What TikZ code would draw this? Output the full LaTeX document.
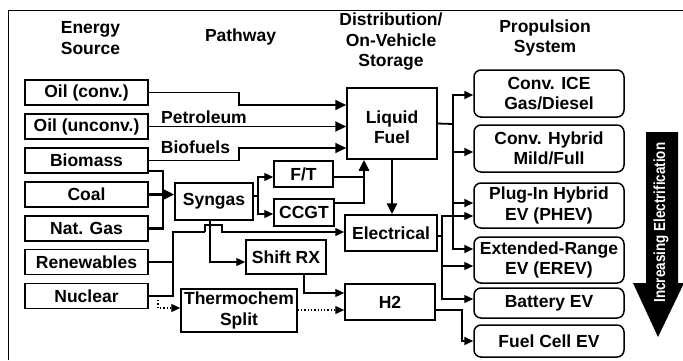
\documentclass[tikz,border=0pt]{standalone}
\usepackage{fontspec}
\usepackage{graphicx}
\setmainfont{Liberation Sans}
\usetikzlibrary{arrows.meta}

\tikzset{
  txt/.style={font=\bfseries\fontsize{17.5}{20.5}\selectfont, align=center, inner sep=0pt},
  box/.style={txt, draw, line width=1.5pt},
  src/.style={box, minimum width=123pt, minimum height=25pt},
  pbox/.style={box, rounded corners=7pt, minimum width=150pt},
  wire/.style={line width=1.8pt},
  thinwire/.style={line width=1.1pt},
  fatwire/.style={line width=2.8pt},
  dotwire/.style={line width=1.3pt, dotted},
  tip/.style={-{Triangle[length=11pt,width=10pt]}},
  smalltip/.style={-{Triangle[length=9pt,width=8pt]}}
}

\begin{document}
\begin{tikzpicture}[x=1pt,y=-1pt]
\useasboundingbox (0,0) rectangle (683,360);
\draw[line width=0.8pt] (8,360) -- (8,10) -- (683,10);

% naglowki
\node[txt] (hsrc) at (90.5,38) {Energy\\Source};
\node[txt] (hpath) at (240.5,37) {Pathway};
\node[txt] (hdist) at (391,42) {Distribution/\\On-Vehicle\\Storage};
\node[txt] (hprop) at (545,38) {Propulsion\\System};

% zrodla
\node[src] (oilc) at (86.5,92.5) {Oil (conv.)};
\node[src] (oilu) at (86.5,126.5) {Oil (unconv.)};
\node[src] (bio) at (86.5,160.5) {Biomass};
\node[src] (coal) at (86.5,194.5) {Coal};
\node[src] (gas) at (86.5,228.5) {Nat. Gas};
\node[src] (ren) at (86.5,262) {Renewables};
\node[src] (nuc) at (86.5,296) {Nuclear};

% posrednie
\node[box, minimum width=78pt, minimum height=37pt] (syn) at (214,201.5) {Syngas};
\node[box, minimum width=59pt, minimum height=26pt] (ft) at (303.5,174) {F/T};
\node[box, minimum width=60pt, minimum height=27pt] (cc) at (304,212.5) {CCGT};
\node[box, minimum width=80pt, minimum height=34pt] (shift) at (286,257) {Shift RX};
\node[box, minimum width=116pt, minimum height=43pt] (therm) at (239,310.5) {Thermochem\\Split};
\node[box, minimum width=90pt, minimum height=71pt] (liq) at (392,123.5) {\rule{0pt}{20pt}Liquid\\Fuel};
\node[box, minimum width=92pt, minimum height=36pt] (elec) at (391,233) {Electrical};
\node[box, minimum width=90pt, minimum height=36pt] (h2) at (390,302) {H2};

% naped
\node[pbox, minimum height=47pt] (ice) at (549,93.5) {Conv. ICE\\Gas/Diesel};
\node[pbox, minimum height=47pt] (hyb) at (549,148.5) {Conv. Hybrid\\Mild/Full};
\node[pbox, minimum height=45pt] (phev) at (549,205.5) {Plug-In Hybrid\\EV (PHEV)};
\node[pbox, minimum height=46pt] (erev) at (549,260) {Extended-Range\\EV (EREV)};
\node[pbox, minimum height=30pt] (bev) at (549,303) {Battery EV};
\node[pbox, minimum height=32pt] (fcev) at (549,341) {Fuel Cell EV};

% do paliwa
\coordinate (j1) at (239,105);
\coordinate (j2) at (239,148);
\draw[wire,tip] (oilc.east) -| (j1) -- (j1 -| liq.west);
\draw[wire,tip] (oilu.east) -- (oilu.east -| liq.west);
\draw[wire,tip] (bio.east) -| (j2) -- (j2 -| liq.west);
\node[txt] (petro) at (204,117) {Petroleum};
\node[txt] (biof) at (195.5,147.5) {Biofuels};

% syngas
\coordinate (b1) at (163,171);
\draw[fatwire] (b1 -| bio.east) -- (b1) |- (gas.east);
\draw[fatwire,tip] (coal.east) -- (coal.east -| syn.west);
\coordinate (s0) at (258,196);
\draw[thinwire] (s0 -| syn.east) -- (s0);
\draw[thinwire,smalltip] (s0) |- ([yshift=-3pt]ft.west);
\draw[thinwire,smalltip] (s0) |- ([yshift=-1.5pt]cc.west);
\coordinate (f1) at (364,203);
\draw[thinwire] ([yshift=-3pt]ft.east) -| (f1);
\draw[fatwire,tip] (f1 -| cc.east) -- (f1) -- (f1 |- liq.south);
\draw[fatwire,tip] (liq.south) -- (liq.south |- elec.north);

% prad
\coordinate (r1) at (173,232);
\coordinate (r2) at (205,232);
\draw[fatwire] (ren.east) -- (ren.east -| r1);
\draw[fatwire] (nuc.east) -| (r1) -- (r2);
\draw[thinwire,smalltip] (r2) -- ++(0,-7) -- ++(17,0) -- ++(0,7) -- (r2 -| elec.west);

% wodor
\coordinate (k1) at (210,262);
\draw[thinwire,smalltip] (k1 |- syn.south) -- (k1) -- (k1 -| shift.west);
\coordinate (k2) at (304,293);
\draw[thinwire,smalltip] (k2 |- shift.south) -- (k2) -- (k2 -| h2.west);
\coordinate (k3) at (300,310);
\draw[dotwire,smalltip] (k3 -| therm.east) -- (k3 -| h2.west);
\coordinate (n0) at (158,300);
\coordinate (n1) at (158,308);
\draw[dotwire,smalltip] (n0) -- (n1) -- (n1 -| therm.west);

% do napedu
\coordinate (p0) at (453,124);
\draw[wire] (liq.east) -- (p0);
\draw[wire,smalltip] (p0) |- ([yshift=-1.5pt]ice.west);
\draw[wire,smalltip] (p0) |- ([yshift=-3.5pt]hyb.west);
\draw[wire,smalltip] (p0) |- ([yshift=2.5pt]phev.west);
\draw[wire,smalltip] (p0) |- ([yshift=11pt]erev.west);
\coordinate (q0) at (442,236);
\draw[thinwire] ([yshift=-3pt]elec.east) -- (q0);
\draw[thinwire,smalltip] (q0) |- ([yshift=-10.5pt]phev.west);
\draw[thinwire,smalltip] (q0) |- ([yshift=-6pt]erev.west);
\draw[thinwire,smalltip] (q0) |- ([yshift=4pt]bev.west);
\coordinate (h0) at (462,310);
\draw[wire,smalltip] ([yshift=-8pt]h2.east) -- (h0) |- (fcev.west);

% strzalka
\fill (646,132) -- (678,132) -- (678,283) -- (684,283) -- (658,337) -- (633,283) -- (646,283) -- cycle;
\node[txt, font=\bfseries\fontsize{16}{17}\selectfont, text=white, rotate=90] (incr) at (661,222.5) {\scalebox{0.84}[1]{Increasing Electrification}};
\end{tikzpicture}
\end{document}
